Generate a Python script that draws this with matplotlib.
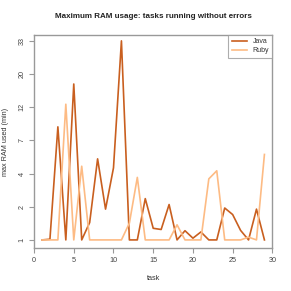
import numpy as np
import matplotlib
matplotlib.use("Agg")
import matplotlib.pyplot as plt

plt.rcParams['font.family'] = ['Liberation Sans', 'DejaVu Sans']

tasks = list(range(1, 30))
java = [1, 1.02, 9.0, 1, 17.4, 1, 1.56, 5.34, 2.1, 4.58, 33, 1, 1, 2.6, 1.36,
        1.32, 2.31, 1, 1.28, 1.05, 1.24, 1, 1, 2.15, 1.87, 1.29, 1, 2.1, 1]
ruby = [1, 1, 1, 12.8, 1, 4.71, 1, 1, 1, 1, 1, 1.54, 3.87, 1, 1,
        1, 1, 1.48, 1, 1, 1, 3.77, 4.35, 1, 1, 1, 1.08, 1, 5.75]
ytick_labels = [1, 2, 4, 7, 12, 20, 33]

fwd = lambda v: np.log(np.asarray(v, dtype=float) + 1)
inv = lambda t: np.exp(t) - 1

fig = plt.figure(figsize=(2.91, 2.91), dpi=100)
ax = fig.add_axes([0.117, 0.147, 0.819, 0.733])
ax.set_yscale('function', functions=(fwd, inv))

ax.plot(tasks, java, color='#c95f1f', lw=1.2, label='Java')
ax.plot(tasks, ruby, color='#fdbb84', lw=1.2, label='Ruby')

# ticks equally spaced on the log(x+1) scale
tpos = np.linspace(np.log(2), np.log(34), 7)
ax.set_yticks(inv(tpos))
ax.set_yticklabels([str(v) for v in ytick_labels], rotation=90, va='center')
ax.set_xticks([0, 5, 10, 15, 20, 25, 30])
ax.set_xlim(0, 30)
ax.set_ylim(0.777, 36.0)

for s in ax.spines.values():
    s.set_color('#999999')
    s.set_linewidth(1.0)
ax.tick_params(colors='#999999', labelcolor='#444444', labelsize=5.2,
               length=3.5, width=0.8, pad=2.5)
ax.minorticks_off()

ax.set_xlabel('task', fontsize=5.2, color='#333333', labelpad=8)
ax.set_ylabel('max RAM used (min)', fontsize=5.2, color='#333333', labelpad=7)
ax.set_title('Maximum RAM usage: tasks running without errors',
             fontsize=5.8, fontweight='bold', color='#222222', pad=12)

leg = ax.legend(loc='upper right', fontsize=5.0, frameon=True, fancybox=False,
                borderpad=0.5, handlelength=2.2, labelspacing=0.3,
                borderaxespad=0)
leg.get_frame().set_edgecolor('#999999')
leg.get_frame().set_linewidth(0.8)
for t in leg.get_texts():
    t.set_color('#333333')

fig.savefig('out.png', dpi=100)
